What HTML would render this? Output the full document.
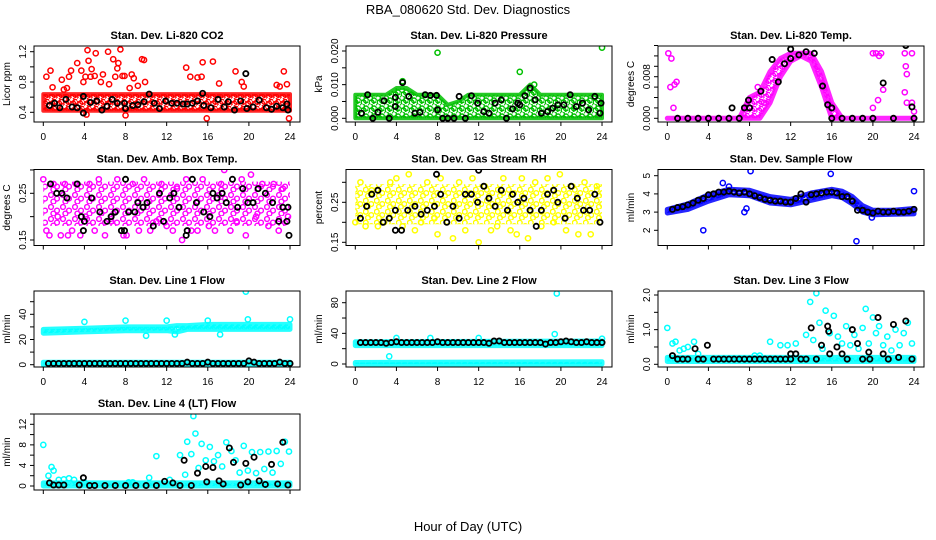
<!DOCTYPE html>
<html><head><meta charset="utf-8"><style>
body{margin:0;background:#fff}
svg{display:block;font-family:"Liberation Sans",sans-serif}
</style></head><body>
<svg id="chart" width="936" height="540" viewBox="0 0 936 540">
<defs id="defs"></defs>
<text x="468" y="14" text-anchor="middle" font-size="13">RBA_080620  Std. Dev. Diagnostics</text>
<text x="468" y="531" text-anchor="middle" font-size="13">Hour of Day (UTC)</text>
</svg>
<script>
// ---- data ----
const xTicks = [0,4,8,12,16,20,24];
const p1Title = "Stan. Dev. Li-820 CO2";
const p1BandH = [0,24];
const p1BandLo = [0.42,0.42];
const p1BandHi = [0.64,0.64];
const p1OutH = [0.3,0.7,0.9,1.8,2.0,2.3,2.5,2.7,3.3,3.7,3.9,4.1,4.2,4.3,4.4,4.6,4.7,5.0,5.1,5.3,5.6,5.8,6.3,6.4,6.8,7.0,7.2,7.3,7.5,7.7,7.9,8.0,8.4,8.6,8.8,9.2,9.6,9.8,9.9,13.9,14.3,15.0,15.4,15.5,15.9,16.5,17.1,18.7,19.3,19.5,22.7,23.0,23.4,23.7,23.9];
const p1OutV = [0.87,0.95,0.73,0.83,0.7,0.72,0.87,0.95,1.05,0.95,0.8,0.87,0.37,1.22,1.08,0.87,0.97,0.88,1.18,1.36,0.8,0.9,1.2,0.77,1.1,0.87,0.98,1.05,1.23,0.88,0.88,0.36,0.72,0.9,0.85,0.75,1.1,1.09,0.8,0.99,0.87,0.86,0.87,1.06,0.32,1.07,0.78,0.94,0.8,0.74,0.76,0.74,0.94,0.77,0.32];
const p1BlkH = [0.6,1.1,1.6,2.2,2.8,3.3,3.9,3.9,4.6,5.2,5.7,6.2,6.7,7.2,7.9,8.0,8.7,9.2,9.8,10.3,10.8,11.3,11.9,12.5,13.0,13.6,14.0,14.5,15.0,15.5,15.6,16.3,17.0,17.6,18.0,18.6,19.2,19.7,19.8,20.4,21.0,21.7,22.2,22.7,23.3,23.7,23.8];
const p1BlkV = [0.49,0.52,0.46,0.57,0.47,0.46,0.39,0.61,0.53,0.55,0.43,0.48,0.57,0.52,0.52,0.45,0.49,0.5,0.54,0.64,0.52,0.45,0.55,0.52,0.52,0.51,0.51,0.52,0.55,0.65,0.49,0.46,0.57,0.47,0.54,0.43,0.55,0.91,0.45,0.47,0.56,0.46,0.44,0.48,0.46,0.51,0.43];

const p2Title = "Stan. Dev. Li-820 Pressure";
const p2BandH = [0,3,4,5,6,8,9,10,11,16,17,18,24];
const p2BandLo = [0,0,0,0,0,0,0,0,0,0,0,0,0];
const p2BandHi = [0.007,0.007,0.009,0.009,0.007,0.007,0.004,0.005,0.007,0.007,0.010,0.007,0.007];
const p2OutH = [8,16,24,4.6,17.4];
const p2OutV = [0.0195,0.0138,0.021,0.011,0.010];
const p2BlkH = [0.6,1.2,1.7,2.2,2.8,3.3,3.9,3.9,4.6,5.2,5.8,6.3,6.8,7.3,7.9,8.0,8.5,9.0,9.6,10.1,10.7,11.3,11.9,12.5,13.0,13.6,14.2,14.7,15.3,15.8,16.0,16.5,17.0,17.5,18.1,18.7,19.2,19.7,20.3,20.9,21.5,22.1,22.7,23.3,23.9,23.8];
const p2BlkV = [0.0015,0.007,0,0.0018,0.0052,0,0.0062,0.0035,0.0106,0.0065,0.0015,0.0018,0.007,0.0068,0.0068,0.0025,0,0,0,0.0065,0,0.0067,0.0045,0.002,0.0015,0.0045,0.0055,0,0.0028,0.0045,0.004,0.0067,0.009,0.0055,0.0015,0.002,0.003,0.004,0.004,0.007,0.0035,0.0045,0.0025,0.0065,0.0045,0.0015];

const p3Title = "Stan. Dev. Li-820 Temp.";
const p3BandH = [0,1,2,3,4,5,6,7,8,9,10,11,12,13,14,15,16,17,18,19,20,21,22,23,24];
const p3BandLo = [0,0,0,0,0,0,0,0,0,0,0.003,0.008,0.011,0.012,0.011,0.006,0,0,0,0,0,0,0,0,0];
const p3BandHi = [0,0,0,0,0,0,0,0,0.004,0.005,0.009,0.0115,0.0125,0.0125,0.0125,0.009,0.003,0,0,0,0,0,0,0,0];
const p3OutH = [0.1,0.3,0.4,0.6,0.7,0.9,20,20.3,20.6,20.8,20,20.5,21,23.1,23.2,23.3,23.1,23.3,23.8,23.8,24,8.8,9.4];
const p3OutV = [0.0125,0.006,0.0115,0.002,0.0065,0.007,0.0125,0.0125,0.012,0.0125,0.002,0.0035,0.0055,0.0125,0.010,0.0085,0.005,0.003,0.0125,0.003,0.0013,0.006,0.003];
const p3BlkH = [1,2,3,4,5,6,6.3,7,7.5,7.9,8,9.1,10.2,10.8,11.4,12,12,12.8,13.5,14.3,15.1,15.6,16,16,17,18,19,20,21,22,23.2,23.8,24];
const p3BlkV = [0,0,0,0,0,0,0.002,0,0.002,0.0035,0.002,0.0052,0.0113,0.007,0.0105,0.0115,0.0133,0.0122,0.0128,0.0125,0.0062,0.0026,0.002,0,0,0,0,0,0.0068,0,0.014,0.0022,0];

const p4Title = "Stan. Dev. Amb. Box Temp.";
const p4BandH = [0,24];
const p4BandLo = [0.18,0.18];
const p4BandHi = [0.275,0.275];
const p4OutH = [0,0.3,0.6,1,1.4,1.7,2.1,2.4,2.8,3.2,3.6,4.1,4.5,5,5.4,6,6.6,7.2,7.8,8.1,8.7,9.3,9.8,10.4,11,11.5,12,12.6,13,13.5,13.9,14.4,15,15.5,16.1,16.7,17.3,17.6,18.2,18.8,19.3,19.7,20.2,20.7,21.3,21.9,22.4,22.9,23.3,23.8];
const p4OutV = [0.28,0.17,0.16,0.27,0.2,0.16,0.27,0.16,0.17,0.27,0.16,0.2,0.27,0.17,0.28,0.16,0.19,0.28,0.16,0.16,0.27,0.17,0.28,0.17,0.19,0.27,0.18,0.17,0.26,0.15,0.28,0.17,0.17,0.28,0.18,0.17,0.27,0.3,0.17,0.19,0.28,0.16,0.29,0.2,0.27,0.18,0.27,0.17,0.26,0.2];
const p4BlkH = [0.7,1.3,1.8,2.3,3.3,3.7,3.9,4.0,4.7,5.5,6.2,6.6,7.0,7.6,7.9,8.0,8.3,8.9,9.2,9.7,10.1,10.7,11.3,11.7,12.3,12.7,13.2,13.9,14.0,14.5,14.9,15.6,16.2,16.5,16.9,17.4,17.8,18.4,18.9,19.4,19.9,20.4,20.9,21.6,22.3,22.9,23.3,23.7,23.8,23.9];
const p4BlkV = [0.27,0.25,0.25,0.24,0.27,0.2,0.17,0.19,0.24,0.21,0.19,0.2,0.21,0.17,0.17,0.28,0.21,0.21,0.23,0.22,0.23,0.18,0.25,0.19,0.24,0.25,0.22,0.16,0.17,0.28,0.23,0.21,0.2,0.25,0.24,0.25,0.23,0.28,0.22,0.26,0.23,0.23,0.26,0.25,0.23,0.19,0.22,0.19,0.22,0.16];

const p5Title = "Stan. Dev. Gas Stream RH";
const p5BandH = [0,24];
const p5BandLo = [0.195,0.195];
const p5BandHi = [0.295,0.295];
const p5OutH = [0,0.5,1,1.6,2.2,2.8,3.4,4,4.6,5.2,5.8,6.4,7,7.7,8,8.3,8.9,9.5,10.1,10.7,11.4,12,12.6,13.2,13.8,14.4,15.1,15.7,16.2,16.8,17.5,18.1,18.7,19.3,19.9,20.5,21.1,21.7,22.3,22.9,23.5];
const p5OutV = [0.2,0.3,0.19,0.28,0.19,0.2,0.3,0.31,0.19,0.32,0.18,0.2,0.3,0.21,0.17,0.31,0.2,0.16,0.3,0.18,0.31,0.15,0.29,0.18,0.19,0.31,0.18,0.17,0.31,0.16,0.3,0.19,0.31,0.2,0.32,0.18,0.29,0.17,0.3,0.17,0.29];
const p5BlkH = [0.5,1.1,1.6,2.2,2.7,3.3,3.9,3.9,4.5,5.1,5.8,6.4,7.0,7.7,7.9,8.3,8.9,9.5,10.1,10.7,11.3,11.9,12,12.5,13.0,13.6,14.2,14.8,15.3,15.8,16.4,17.0,17.6,18.1,18.7,19.3,19.7,20.4,21.0,21.6,22.2,22.8,23.3,23.8];
const p5BlkV = [0.21,0.24,0.27,0.28,0.2,0.21,0.23,0.18,0.18,0.23,0.24,0.22,0.23,0.24,0.32,0.27,0.2,0.24,0.21,0.27,0.27,0.25,0.33,0.29,0.26,0.24,0.28,0.23,0.27,0.25,0.26,0.23,0.19,0.23,0.27,0.28,0.25,0.21,0.29,0.26,0.23,0.23,0.27,0.2];

const p6Title = "Stan. Dev. Sample Flow";
const p6BandH = [0,2,4,6,8,10,12,14,16,17,18,19,20,22,24];
const p6BandLo = [2.95,3.15,3.6,3.95,3.9,3.5,3.4,3.65,3.9,3.8,3.45,3.0,2.85,2.88,2.9];
const p6BandHi = [3.15,3.45,3.95,4.25,4.2,3.85,3.7,4.05,4.25,4.15,3.85,3.35,3.1,3.1,3.2];
const p6OutH = [3.5,5.4,6,7.5,7.7,8.1,15.9,18.4,19.9,24];
const p6OutV = [2.0,4.6,4.4,3.0,3.2,5.25,5.1,1.4,2.7,4.15];
const p6BlkH = [0.5,1,1.5,2,2.5,3,3.5,4,4.5,5,5.5,6,6.5,7,7.5,8,8.5,9,9.5,10,10.5,11,11.5,12,12.5,13,13.5,14,14.5,15,15.5,16,16.5,17,17.5,18,18.5,19,19.5,20,20.5,21,21.5,22,22.5,23,23.5,24];
const p6BlkV = [3.15,3.25,3.3,3.4,3.5,3.65,3.75,3.95,4.0,4.1,4.1,4.15,4.1,4.05,4.1,4.0,3.9,3.8,3.7,3.65,3.6,3.6,3.55,3.55,3.75,4.0,3.55,3.95,4.0,4.05,4.1,4.1,4.05,3.85,3.85,3.6,3.1,3.1,3.0,2.95,3.05,3.0,3.0,3.05,3.0,3.0,3.05,3.15];

const p7Title = "Stan. Dev. Line 1 Flow";
const p7BandH = [0,4,8,12,13,14,16,24];
const p7BandLo = [25,26,27,27,26,28,28,28];
const p7BandHi = [28,29,30,30,31,31,32,32];
const p7Band2H = [0,24];
const p7Band2Lo = [0,0];
const p7Band2Hi = [2,2];
const p7OutH = [4,8,10,12,12.8,16,17.2,19.7,19.9,24];
const p7OutV = [34,35,23,35,24,35,24,58,36,36];
const p7BlkH = [0.5,1,1.5,2,2.5,3,3.5,4,4.5,5,5.5,6,6.5,7,7.5,8,8.5,9,9.5,10,10.5,11,11.5,12,12.5,13,13.5,14,14.5,15,15.5,16,16.5,17,17.5,18,18.5,19,19.5,20,20.5,21,21.5,22,22.5,23,23.5,24];
const p7BlkV = [1,1,1,1,1,1,1,1,1,1,1,1,1,1,1,1,1,1,1,1,1,1,1,1,1,1,1,2,1,1,1,2,1,1,1,1,1,1,1,3,2,1,1,1,1,2,1,1];

const p8Title = "Stan. Dev. Line 2 Flow";
const p8BandH = [0,24];
const p8BandLo = [24,24];
const p8BandHi = [29,30];
const p8Band2H = [0,24];
const p8Band2Lo = [0,0];
const p8Band2Hi = [2,3];
const p8OutH = [3.3,4,7.3,12,19.4,19.6,24];
const p8OutV = [10,34,34,34,39,92,33];
const p8BlkH = [0.5,1,1.5,2,2.5,3,3.5,4,4.5,5,5.5,6,6.5,7,7.5,8,8.5,9,9.5,10,10.5,11,11.5,12,12.5,13,13.5,14,14.5,15,15.5,16,16.5,17,17.5,18,18.5,19,19.5,20,20.5,21,21.5,22,22.5,23,23.5,24];
const p8BlkV = [28,28,28,28,28,27,28,29,28,28,28,28,28,28,28,29,28,28,28,28,28,28,28,28,28,27,30,30,28,28,28,28,28,28,28,28,26,28,28,29,30,29,28,28,29,28,28,28];

const p9Title = "Stan. Dev. Line 3 Flow";
const p9BandH = [0,24];
const p9BandLo = [0.08,0.08];
const p9BandHi = [0.2,0.2];
const p9OutH = [0,0.5,0.8,1.2,1.6,2,2.6,3,8.5,9,10,11,11.7,12.5,13.5,13.9,14.2,14.5,14.8,15.1,15.4,15.8,16.2,16.6,17,17.4,17.8,18.2,18.6,19,19.3,19.6,20,20.3,20.6,21,21.4,21.8,22.2,22.6,23,23.4,23.8];
const p9OutV = [1.05,0.6,0.65,0.4,0.45,0.5,0.65,0.3,0.25,0.25,0.65,0.55,0.55,0.6,0.85,1.8,0.7,2.05,1.2,0.45,1.55,0.9,1.4,0.8,0.6,1.1,0.55,0.85,0.45,1.05,1.6,0.6,1.35,0.9,1.1,0.55,0.8,0.4,1.0,0.55,0.9,1.2,0.6];
const p9BlkH = [0.5,1,1.5,2,2.7,3,3.5,3.9,4.5,5,5.5,6,6.5,7,7.5,8,8.5,9,9.5,10,10.5,11,11.5,12,12,12.5,13,13.5,14,14.5,15,15.6,15.7,15.8,16.5,17,17.5,18,18.5,19,19.6,19.7,20.5,21,21.5,22,22.5,23.2,23.8];
const p9BlkV = [0.25,0.15,0.15,0.15,0.45,0.15,0.15,0.55,0.15,0.15,0.15,0.15,0.15,0.15,0.15,0.15,0.15,0.15,0.15,0.15,0.15,0.15,0.15,0.15,0.3,0.3,0.15,0.15,1.05,0.15,0.55,1.1,0.95,0.3,0.5,0.3,0.15,1.0,0.6,0.15,0.35,0.15,1.35,0.3,0.15,1.15,0.2,1.25,0.15];

const p10Title = "Stan. Dev. Line 4 (LT) Flow";
const p10BandH = [0,24];
const p10BandLo = [0,0];
const p10BandHi = [0.6,0.6];
const p10OutH = [0,0.5,0.8,1,1.5,2,2.5,3,4,8.3,8.7,10.3,11,12.3,13.3,13.8,14,14.4,14.6,14.8,15.1,15.4,15.8,16.2,16.6,17,17.4,17.8,18.3,18.7,19.1,19.5,19.9,20.3,20.7,21.1,21.5,21.9,22.3,22.7,23.1,23.5,23.9];
const p10OutV = [8,2,3.7,3,1.2,1.3,1.5,1.2,0.7,0.7,0.7,1.6,5.8,1.2,6,2.2,8.6,6.2,13.6,10.2,3.5,8.2,5,7.6,4.8,6,3.8,8.5,6.8,5,2.6,7.8,3,6.6,2.5,6.6,3.3,6.7,2.6,6.8,4.3,8.6,6.7];
const p10BlkH = [0.6,1,1.5,2,3.5,3.9,4.5,5,6,7,8,9,10,11,11.8,12.6,13.3,13.7,14.4,15,15.8,15.9,16.5,17.1,17.5,18.1,18.5,19.2,19.7,19.9,20.5,21,21.6,22.2,22.8,23.3,23.8];
const p10BlkV = [0.6,0.2,0.2,0.2,0.2,1.6,0.1,0.1,0.1,0.1,0.1,0.1,0.1,0.1,0.9,0.6,0.1,5,0.1,2.5,3.8,0.8,3.6,1,0.4,7.4,4.6,0.2,4.4,0.8,5.6,1,0.3,4.2,0.4,8.5,0.2];

// ---- layout / rendering ----
const NS = "http://www.w3.org/2000/svg";
const svg = document.getElementById('chart');
const defs = document.getElementById('defs');
function mk(tag, attrs, parent){const e=document.createElementNS(NS,tag);for(const k in attrs)e.setAttribute(k,attrs[k]);(parent||svg).appendChild(e);return e;}
const rowTops=[46,169.5,291,414];
const panels=[
 {t:p1Title,col:0,row:0,ylab:"Licor ppm",color:"#ff0000",cal:[0.4,112.3,1.2,51.7],ticks:[0.4,0.6,0.8,1.0,1.2],labels:{"0.4":"0.4","0.8":"0.8","1.2":"1.2"},pat:3.5,sw:4,bands:[[p1BandH,p1BandLo,p1BandHi]],out:[p1OutH,p1OutV],blk:[p1BlkH,p1BlkV],xl:true},
 {t:p2Title,col:1,row:0,ylab:"kPa",color:"#00c000",cal:[0,118.3,0.02,51],ticks:[0,0.005,0.01,0.015,0.02],labels:{"0":"0.000","0.01":"0.010","0.02":"0.020"},pat:4,sw:4,bands:[[p2BandH,p2BandLo,p2BandHi]],out:[p2OutH,p2OutV],blk:[p2BlkH,p2BlkV],xl:true},
 {t:p3Title,col:2,row:0,ylab:"degrees C",color:"#ff00ff",cal:[0,118.3,0.008,76.7],ticks:[0,0.002,0.004,0.006,0.008,0.010,0.012,0.014],labels:{"0":"0.000","0.008":"0.008"},pat:3.5,sw:5,bands:[[p3BandH,p3BandLo,p3BandHi]],out:[p3OutH,p3OutV],blk:[p3BlkH,p3BlkV],xl:true},
 {t:p4Title,col:0,row:1,ylab:"degrees C",color:"#ff00ff",cal:[0.15,240,0.25,193.3],ticks:[0.15,0.2,0.25,0.3],labels:{"0.15":"0.15","0.25":"0.25"},pat:6,sw:0,bands:[[p4BandH,p4BandLo,p4BandHi]],out:[p4OutH,p4OutV],blk:[p4BlkH,p4BlkV],xl:false},
 {t:p5Title,col:1,row:1,ylab:"percent",color:"#ffff00",cal:[0.15,242.3,0.25,202.3],ticks:[0.15,0.2,0.25,0.3],labels:{"0.15":"0.15","0.25":"0.25"},pat:5.5,sw:0,bands:[[p5BandH,p5BandLo,p5BandHi]],out:[p5OutH,p5OutV],blk:[p5BlkH,p5BlkV],xl:false},
 {t:p6Title,col:2,row:1,ylab:"ml/min",color:"#0000ff",cal:[2,230.3,5,175.7],ticks:[2,3,4,5],labels:{"2":"2","3":"3","4":"4","5":"5"},pat:3,sw:5,bands:[[p6BandH,p6BandLo,p6BandHi]],out:[p6OutH,p6OutV],blk:[p6BlkH,p6BlkV],xl:false},
 {t:p7Title,col:0,row:2,ylab:"ml/min",color:"#00ffff",cal:[0,364.7,40,314.3],ticks:[0,10,20,30,40,50],labels:{"0":"0","20":"20","40":"40"},pat:3,sw:5,bands:[[p7BandH,p7BandLo,p7BandHi],[p7Band2H,p7Band2Lo,p7Band2Hi]],out:[p7OutH,p7OutV],blk:[p7BlkH,p7BlkV],xl:true},
 {t:p8Title,col:1,row:2,ylab:"ml/min",color:"#00ffff",cal:[0,364,80,302.7],ticks:[0,20,40,60,80],labels:{"0":"0","40":"40","80":"80"},pat:3,sw:5,bands:[[p8BandH,p8BandLo,p8BandHi],[p8Band2H,p8Band2Lo,p8Band2Hi]],out:[p8OutH,p8OutV],blk:[p8BlkH,p8BlkV],xl:true},
 {t:p9Title,col:2,row:2,ylab:"ml/min",color:"#00ffff",cal:[0,364.3,2,295],ticks:[0,0.5,1,1.5,2],labels:{"0":"0.0","1":"1.0","2":"2.0"},pat:3.5,sw:5,bands:[[p9BandH,p9BandLo,p9BandHi]],out:[p9OutH,p9OutV],blk:[p9BlkH,p9BlkV],xl:true},
 {t:p10Title,col:0,row:3,ylab:"ml/min",color:"#00ffff",cal:[0,486,12,424.3],ticks:[0,2,4,6,8,10,12,14],labels:{"0":"0","4":"4","8":"8","12":"12"},pat:3.5,sw:5,bands:[[p10BandH,p10BandLo,p10BandHi]],out:[p10OutH,p10OutV],blk:[p10BlkH,p10BlkV],xl:false}
];
panels.forEach((p,pi)=>{
  const L=34+312*p.col, R=L+266, T=rowTops[p.row], B=T+76;
  const xs=h=>L+9.3+h*10.28;
  const [v0,y0,v1,y1]=p.cal;
  const ys=v=>y0+(v-v0)*(y1-y0)/(v1-v0);
  const g=mk('g',{});
  
  
  const clipId='clip'+pi;
  const cp=mk('clipPath',{id:clipId},defs); mk('rect',{x:L,y:T,width:R-L,height:B-T},cp);
  const pid='pat'+pi;
  const s=p.pat;
  const pat=mk('pattern',{id:pid,patternUnits:'userSpaceOnUse',width:s*2,height:s*2},defs);
  mk('rect',{x:0,y:0,width:s*2,height:s*2,fill:'#fff'},pat);
  mk('circle',{cx:s/2,cy:s/2,r:2.4,fill:'none',stroke:p.color,'stroke-width':1.4},pat);
  mk('circle',{cx:s*1.5,cy:s*1.1,r:2.4,fill:'none',stroke:p.color,'stroke-width':1.4},pat);
  mk('circle',{cx:s*0.9,cy:s*1.6,r:2.4,fill:'none',stroke:p.color,'stroke-width':1.4},pat);
  const plot=mk('g',{'clip-path':'url(#'+clipId+')'},g);
  p.bands.forEach(b=>{
    const [H,lo,hi]=b;
    let d='';
    H.forEach((h,i)=>{d+=(i?'L':'M')+xs(h).toFixed(1)+','+ys(hi[i]).toFixed(1);});
    for(let i=H.length-1;i>=0;i--) d+='L'+xs(H[i]).toFixed(1)+','+ys(lo[i]).toFixed(1);
    d+='Z';
    const e=mk('path',{d:d,fill:'url(#'+pid+')',stroke:p.sw?p.color:'none','stroke-width':p.sw,'stroke-linejoin':'round','stroke-opacity':0.85},plot);
    
    
  });
  const [oh,ov]=p.out;
  for(let i=0;i<Math.min(oh.length,ov.length);i++){
    const c=mk('circle',{cx:xs(oh[i]),cy:ys(ov[i]),r:2.6,fill:'none',stroke:p.color,'stroke-width':1.5},plot);
    
    
  }
  const [bh,bv]=p.blk;
  for(let i=0;i<Math.min(bh.length,bv.length);i++){
    const c=mk('circle',{cx:xs(bh[i]),cy:ys(bv[i]),r:2.6,fill:'none',stroke:'#000','stroke-width':1.8},plot);
    
    
  }
  const box=mk('rect',{x:L,y:T,width:R-L,height:B-T,fill:'none',stroke:'#000','stroke-width':1},g);
  
  
  const tt=mk('text',{x:(L+R)/2,y:T-7,'text-anchor':'middle','font-size':11,'font-weight':'bold'},g);
  tt.textContent=p.t;
  
  
  const yl=mk('text',{x:0,y:0,'text-anchor':'middle','font-size':10,transform:'translate('+(L-24)+','+((T+B)/2)+') rotate(-90)'},g);
  yl.textContent=p.ylab;
  
  
  p.ticks.forEach(v=>{
    const y=ys(v);
    mk('line',{x1:L-4,x2:L,y1:y,y2:y,stroke:'#000','stroke-width':1},g);
    const key=String(+v.toFixed(4));
    if(p.labels[key]){
      const t=mk('text',{x:0,y:0,'text-anchor':'middle','font-size':10,transform:'translate('+(L-8)+','+y+') rotate(-90)'},g);
      t.textContent=p.labels[key];
      
      
    }
  });
  xTicks.forEach(h=>{
    const x=xs(h);
    mk('line',{x1:x,x2:x,y1:B,y2:B+4,stroke:'#000','stroke-width':1},g);
    if(p.xl){
      const t=mk('text',{x:x,y:B+18,'text-anchor':'middle','font-size':10},g);
      t.textContent=h;
      
      
    }
  });
});
</script>
</body></html>
